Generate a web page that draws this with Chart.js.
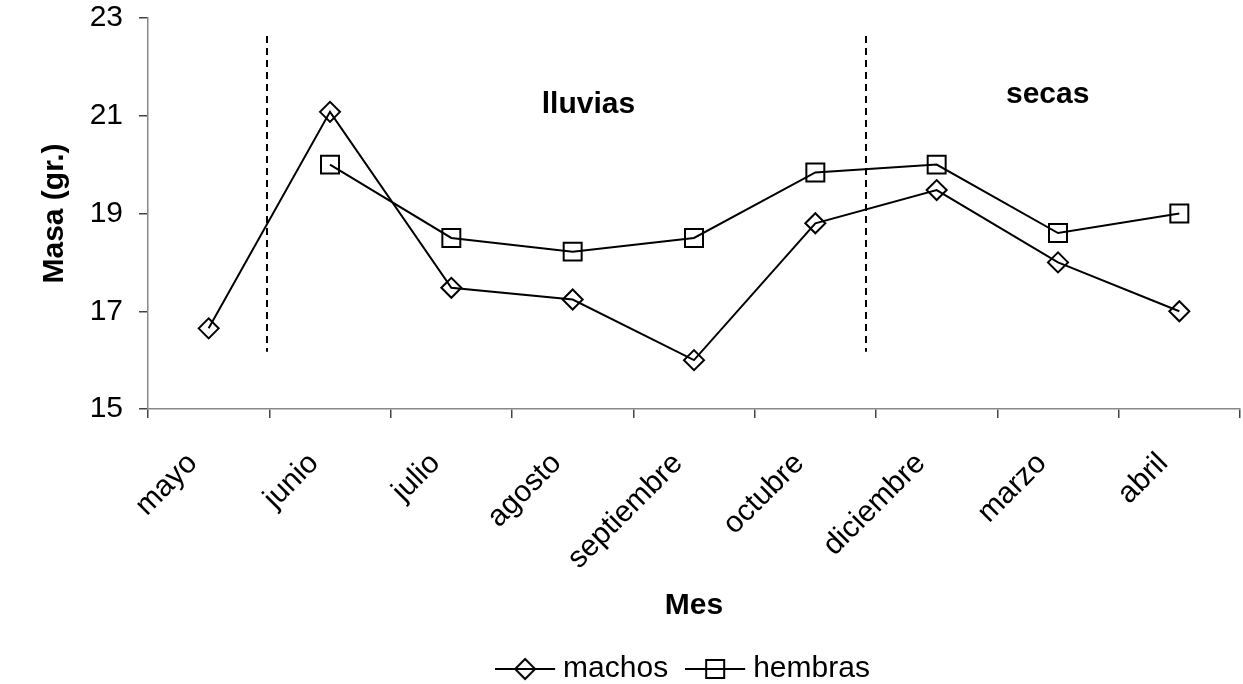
<!DOCTYPE html>
<html>
<head>
<meta charset="utf-8">
<script src="https://cdn.jsdelivr.net/npm/chart.js@4/dist/chart.umd.min.js"></script>
<style>
  html, body { margin: 0; padding: 0; background: #fff; }
  canvas { display: block; }
</style>
</head>
<body>
<canvas id="masa" width="1243" height="684"></canvas>
<script>
const meses = ['mayo', 'junio', 'julio', 'agosto', 'septiembre', 'octubre', 'diciembre', 'marzo', 'abril'];
const machos = [16.65, 21.08, 17.48, 17.24, 16.0, 18.8, 19.48, 18.0, 17.0];
const hembras = [null, 20.0, 18.5, 18.22, 18.5, 19.84, 20.0, 18.6, 19.0];
const yTicks = [15, 17, 19, 21, 23];
const temporadas = ['lluvias', 'secas'];

const FONT = "'Liberation Sans', Arial, sans-serif";
const FS = 30;

// where the season dividers and names go, in axis units
const divisiones = [0.478, 5.415];
const divTop = 22.63, divBottom = 16.17;
const etiquetaPos = [{ x: 3.13, y: 21.22 }, { x: 6.915, y: 21.42 }];

// legend symbol: line with marker, drawn in the left 60px of a 76px canvas
function legendImg(style) {
    const c = document.createElement('canvas');
    c.width = 76; c.height = 30;
    const g = c.getContext('2d');
    g.strokeStyle = '#000';
    g.lineWidth = 2;
    g.beginPath(); g.moveTo(0, 15); g.lineTo(60, 15); g.stroke();
    g.beginPath();
    if (style === 'diamond') {
        g.moveTo(30, 5); g.lineTo(40, 15); g.lineTo(30, 25); g.lineTo(20, 15); g.closePath();
    } else {
        g.rect(21, 6, 18, 18);
    }
    g.stroke();
    return c;
}

const temporadasPlugin = {
    id: 'temporadas',
    afterDatasetsDraw(chart) {
        const ctx = chart.ctx, x = chart.scales.x, y = chart.scales.y;
        ctx.save();
        ctx.strokeStyle = '#000';
        ctx.lineWidth = 2;
        ctx.setLineDash([7, 5]);
        divisiones.forEach(d => {
            const px = Math.round(x.getPixelForValue(d));
            ctx.beginPath();
            ctx.moveTo(px, y.getPixelForValue(divTop));
            ctx.lineTo(px, y.getPixelForValue(divBottom));
            ctx.stroke();
        });
        ctx.setLineDash([]);
        ctx.fillStyle = '#000';
        ctx.font = 'bold ' + FS + 'px ' + FONT;
        ctx.textAlign = 'center';
        ctx.textBaseline = 'middle';
        temporadas.forEach((t, i) => {
            ctx.fillText(t, x.getPixelForValue(etiquetaPos[i].x), y.getPixelForValue(etiquetaPos[i].y));
        });
        ctx.restore();
    }
};

function noPad(scale) {
    scale.paddingTop = 0;
    scale.paddingBottom = 0;
    scale.paddingLeft = 0;
    scale.paddingRight = 0;
}

Chart.defaults.font.family = FONT;
Chart.defaults.color = '#000';

new Chart(document.getElementById('masa'), {
    type: 'line',
    data: {
        labels: meses,
        datasets: [{
            label: 'machos',
            data: machos,
            borderColor: '#000',
            borderWidth: 2,
            pointStyle: 'rectRot',
            pointRadius: 10,
            pointHoverRadius: 10,
            pointBorderWidth: 2,
            pointBorderColor: '#000',
            pointBackgroundColor: 'rgba(0,0,0,0)',
            tension: 0
        }, {
            label: 'hembras',
            data: hembras,
            borderColor: '#000',
            borderWidth: 2,
            pointStyle: 'rect',
            pointRadius: 12.7,
            pointHoverRadius: 12.7,
            pointBorderWidth: 2,
            pointBorderColor: '#000',
            pointBackgroundColor: 'rgba(0,0,0,0)',
            tension: 0
        }]
    },
    options: {
        responsive: false,
        devicePixelRatio: 1,
        animation: false,
        layout: { autoPadding: false, padding: { left: 10, right: 3, top: 18, bottom: -10 } },
        plugins: {
            tooltip: { enabled: false },
            legend: {
                position: 'bottom',
                fullSize: false,
                labels: {
                    font: { size: FS },
                    color: '#000',
                    usePointStyle: true,
                    pointStyleWidth: 30,
                    padding: 40,
                    generateLabels(chart) {
                        return chart.data.datasets.map((ds, i) => ({
                            text: ds.label,
                            pointStyle: legendImg(i === 0 ? 'diamond' : 'square'),
                            fillStyle: 'rgba(0,0,0,0)',
                            strokeStyle: '#000',
                            lineWidth: 0,
                            fontColor: '#000',
                            datasetIndex: i,
                            hidden: false
                        }));
                    }
                }
            }
        },
        scales: {
            x: {
                type: 'category',
                offset: true,
                grid: { offset: true, drawOnChartArea: false, drawTicks: true, tickLength: 9, color: '#444', lineWidth: 1.5 },
                border: { display: true, color: '#888', width: 1.5 },
                ticks: { font: { size: FS }, color: '#000', maxRotation: 45, minRotation: 45, autoSkip: false, padding: 28, labelOffset: -16 },
                title: { display: true, text: 'Mes', font: { size: FS, weight: 'bold' }, padding: { top: 0, bottom: -10 } },
                afterFit(scale) { scale.height = 205; noPad(scale); }
            },
            y: {
                min: 15,
                max: 23,
                afterBuildTicks(scale) { scale.ticks = yTicks.map(v => ({ value: v })); },
                grid: { drawOnChartArea: false, drawTicks: true, tickLength: 9, color: '#444', lineWidth: 1.5 },
                border: { display: true, color: '#888', width: 1.5 },
                ticks: { font: { size: FS }, color: '#000', padding: 16 },
                title: { display: true, text: 'Masa (gr.)', font: { size: FS, weight: 'bold' }, padding: { top: 27, bottom: 0 } },
                afterFit(scale) { scale.width = 138; noPad(scale); }
            }
        }
    },
    plugins: [temporadasPlugin]
});
</script>
</body>
</html>
